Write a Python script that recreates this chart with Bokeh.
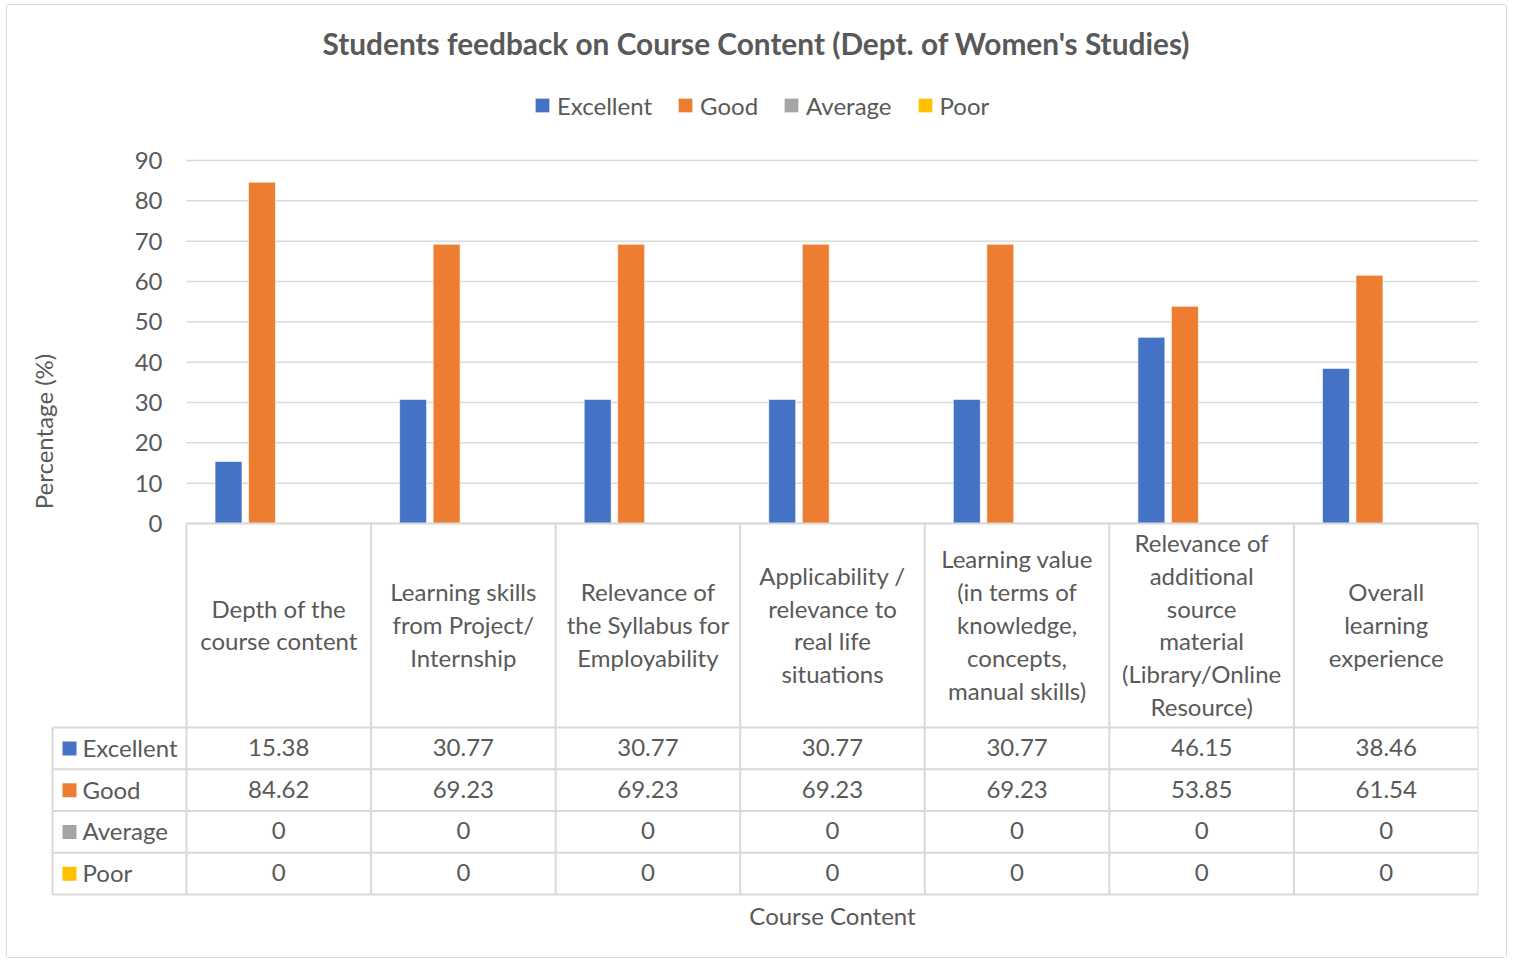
import math
from bokeh.plotting import figure
from bokeh.models import Range1d, FixedTicker, Legend, LegendItem, ColumnDataSource
from bokeh.embed import file_html
from bokeh.resources import INLINE
from bokeh.core.properties import value

# ---------------- data ----------------
title_text = "Students feedback on Course Content (Dept. of Women's Studies)"
categories = [
    "Depth of the\ncourse content",
    "Learning skills\nfrom Project/\nInternship",
    "Relevance of\nthe Syllabus for\nEmployability",
    "Applicability /\nrelevance to\nreal life\nsituations",
    "Learning value\n(in terms of\nknowledge,\nconcepts,\nmanual skills)",
    "Relevance of\nadditional\nsource\nmaterial\n(Library/Online\nResource)",
    "Overall\nlearning\nexperience",
]
series = ["Excellent", "Good", "Average", "Poor"]
excellent = [15.38, 30.77, 30.77, 30.77, 30.77, 46.15, 38.46]
good = [84.62, 69.23, 69.23, 69.23, 69.23, 53.85, 61.54]
average = [0, 0, 0, 0, 0, 0, 0]
poor = [0, 0, 0, 0, 0, 0, 0]
y_ticks = [0, 10, 20, 30, 40, 50, 60, 70, 80, 90]
y_max = 90
y_label = "Percentage (%)"
x_label = "Course Content"

# ---------------- style / layout (pixels) ----------------
colors = ["#4472c4", "#ed7d31", "#a5a5a5", "#ffc000"]
FONT = "Lato"
TXT = "#595959"
GRID = "#d9d9d9"
FS = "24px"
OX, OY = 7, 5                                # page px of the canvas origin (inside border)
W, H = 1501, 954
FRAME_T = 65                                 # page px of frame top
PLOT_L, PLOT_R = 186, 1478                   # page px of plot area
Y_TOP, Y_ZERO = 160, 523                     # page px of y_max and 0
HEADER_H, ROW_H = 204, 41.75                 # data-table geometry (px)
LEG_X, LEG_Y = 535, 105                      # page px: legend left / middle
TITLE_X = 322                                # page px: title left

values = [excellent, good, average, poor]
n = len(categories)
PX = (PLOT_R - PLOT_L) / n                   # px per category
PPU = (Y_ZERO - Y_TOP) / y_max               # px per percent
BOT = OY + H
x_start = -(PLOT_L - OX) / PX
y_end = (Y_ZERO - FRAME_T) / PPU
y_start = -(BOT - Y_ZERO) / PPU

p = figure(width=W, height=H, x_range=Range1d(x_start, n), y_range=Range1d(y_start, y_end),
           output_backend="svg", toolbar_location=None, x_axis_location=None,
           min_border_left=0, min_border_right=OX + W - PLOT_R, min_border_top=FRAME_T - OY,
           min_border_bottom=0, margin=(OY - 1, 0, 0, OX - 1))
p.styles = {"border": "1px solid #d9d9d9", "border-radius": "3px"}
p.extra_y_ranges = {"tbl": Range1d(start=BOT - Y_ZERO, end=-(Y_ZERO - FRAME_T))}
p.outline_line_color = None
p.grid.visible = False

# y axis placed at the left edge of the plot area
ax = p.yaxis[0]
ax.fixed_location = 0
ax.ticker = FixedTicker(ticks=y_ticks)
ax.axis_line_color = None
ax.major_tick_line_color = None
ax.minor_tick_line_color = None
ax.major_tick_out = 0
ax.major_label_standoff = 24
ax.major_label_text_font = FONT
ax.major_label_text_font_size = FS
ax.major_label_text_color = TXT

# horizontal grid lines over the plot area
p.segment(x0=[0] * len(y_ticks), x1=[n] * len(y_ticks), y0=y_ticks, y1=y_ticks,
          line_color=GRID, line_width=1.5)

# title
p.title.text = title_text
p.title.align = "left"
p.title.offset = TITLE_X - OX
p.title.text_font = FONT
p.title.text_font_size = "29.8px"
p.title.text_font_style = "bold"
p.title.text_color = TXT

# bars
step = 0.1815
bw = 0.146
centers = [i + 0.5 for i in range(n)]
items = []
for k, (name, vals, col) in enumerate(zip(series, values, colors)):
    off = (k - (len(series) - 1) / 2) * step
    src = ColumnDataSource(dict(x=[c + off for c in centers], top=vals))
    r = p.vbar(x="x", top="top", bottom=0, width=bw, source=src,
               fill_color=col, line_color="white", line_width=1, line_alpha=0.6)
    items.append(LegendItem(label=name, renderers=[r]))

# category axis line (over the bar bases)
p.segment(x0=[0], x1=[n], y0=[0], y1=[0], line_color=GRID, line_width=2)

LEG_ITEM_H = 29
legend = Legend(items=items, orientation="horizontal",
                location=(LEG_X - OX - 2, BOT - LEG_Y - LEG_ITEM_H / 2),
                border_line_color=None, background_fill_alpha=0,
                label_text_font=FONT, label_text_font_size=FS, label_text_color=TXT,
                label_height=LEG_ITEM_H,
                glyph_width=18, glyph_height=18, label_standoff=6, spacing=24,
                padding=0, margin=0)
p.add_layout(legend)

# y axis title
p.text(x=[(43 - PLOT_L) / PX], y=[(Y_ZERO - 431) / PPU], text=[y_label], angle=math.pi / 2,
       text_align="center", text_baseline="middle", text_font=value(FONT),
       text_font_size=FS, text_color=TXT)

# ---------------- data table ----------------
hdr_l = -(PLOT_L - 52) / PX
TBL_H = HEADER_H + ROW_H * len(series)
x0 = [hdr_l] * (len(series) + 1)
x1 = [float(n)] * (len(series) + 1)
yy = [HEADER_H + j * ROW_H for j in range(len(series) + 1)]
p.segment(x0=x0, x1=x1, y0=yy, y1=yy, line_color=GRID, line_width=2, y_range_name="tbl")
vx = [float(i) for i in range(n + 1)] + [hdr_l]
vy0 = [0.0] * (n + 1) + [HEADER_H]
vy1 = [TBL_H] * (n + 2)
p.segment(x0=vx, x1=vx, y0=vy0, y1=vy1, line_color=GRID, line_width=2, y_range_name="tbl")

# category headers
p.text(x=centers, y=[HEADER_H / 2 - 1] * n, text=categories, text_align="center",
       text_baseline="middle", text_font=value(FONT), text_font_size=FS,
       text_color=TXT, text_line_height=1.13, y_range_name="tbl")

def fmt(v):
    return f"{v:g}"

for j, vals in enumerate(values):
    yc = HEADER_H + (j + 0.5) * ROW_H - 1
    p.text(x=centers, y=[yc] * n, text=[fmt(v) for v in vals], text_align="center",
           text_baseline="middle", text_font=value(FONT), text_font_size=FS, text_color=TXT,
           y_range_name="tbl")

# row headers
ry = [HEADER_H + (j + 0.5) * ROW_H for j in range(len(series))]
p.scatter(x=[hdr_l + 17 / PX] * len(series), y=ry, marker="square", size=14,
          fill_color=colors, line_color=None, y_range_name="tbl")
p.text(x=[hdr_l + 30 / PX] * len(series), y=[v - 1 for v in ry], text=series, text_align="left",
       text_baseline="middle", text_font=value(FONT), text_font_size=FS, text_color=TXT,
       y_range_name="tbl")

# x axis title
p.text(x=[n / 2], y=[TBL_H + 21], text=[x_label], text_align="center", text_baseline="middle",
       text_font=value(FONT), text_font_size=FS, text_color=TXT, y_range_name="tbl")

open("out.html", "w").write(file_html(p, INLINE))
